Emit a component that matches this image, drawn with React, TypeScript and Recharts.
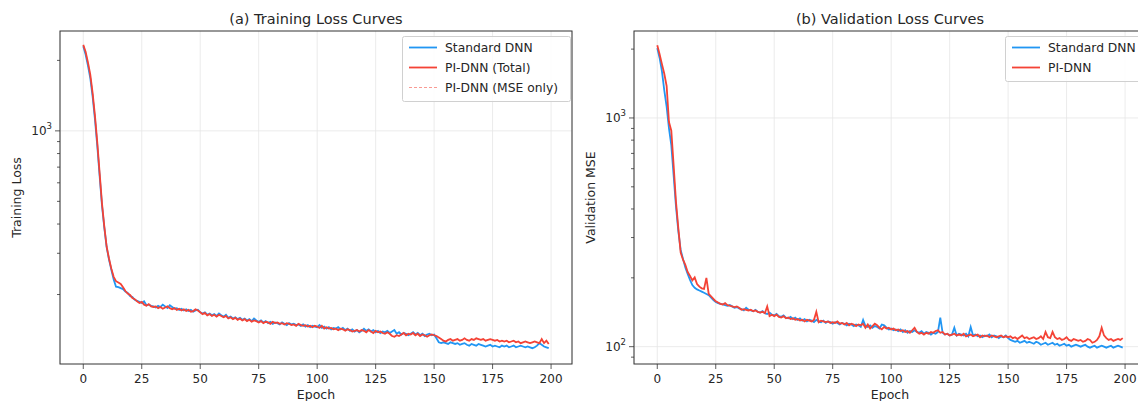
import React from "react";
import {
  CartesianGrid,
  Line,
  LineChart,
  ReferenceLine,
  XAxis,
  YAxis,
} from "recharts";

// training loss, standard DNN (epochs 0..199)
const trainStd = [
  2300, 2120, 1900, 1680, 1400, 1120, 860, 640, 480, 385,
  318, 282, 255, 232, 216, 215, 213, 211, 206, 203,
  197, 195, 190, 188, 186, 184, 187, 180, 181, 179,
  178, 176, 179, 177, 181, 178, 175, 180, 177, 174,
  175, 172, 174, 171, 173, 170, 172, 169, 171, 172,
  168, 166, 168, 164, 166, 163, 165, 162, 166, 163,
  161, 164, 159, 161, 158, 160, 157, 159, 156, 158,
  155, 157, 154, 158, 155, 153, 155, 152, 154, 151,
  153, 150, 152, 151, 149, 152, 150, 148, 151, 149,
  150, 148, 149, 147, 149, 146, 148, 145, 147, 146,
  145, 148, 144, 146, 143, 145, 142, 144, 143, 145,
  142, 144, 141, 143, 140, 142, 139, 141, 138, 140,
  143, 140, 142, 139, 141, 138, 140, 137, 139, 138,
  140, 137, 139, 141, 136, 138, 135, 137, 136, 134,
  136, 138, 135, 137, 134, 136, 133, 135, 136, 134,
  135, 130, 125, 124, 125, 124, 123, 125, 124, 123,
  124, 122, 123, 124, 122, 121, 123, 122, 121, 123,
  122, 121, 120, 121, 122, 120, 121, 120, 119, 121,
  120, 121, 119, 120, 121, 119, 120, 121, 120, 119,
  120, 119, 118, 119, 121, 124, 122, 120, 119, 118,
];

// training loss, PI-DNN total
const trainPi = [
  2330, 2180, 1960, 1740, 1450, 1160, 890, 660, 490, 390,
  320, 285, 258, 238, 228, 225, 222, 215, 207, 202,
  199, 193, 191, 187, 184, 186, 181, 179, 182, 178,
  177, 178, 175, 177, 174, 176, 178, 175, 173, 175,
  172, 174, 171, 173, 170, 172, 169, 170, 173, 171,
  168, 165, 167, 163, 165, 162, 164, 161, 164, 162,
  160, 162, 158, 160, 157, 159, 156, 158, 155, 157,
  154, 156, 153, 155, 154, 152, 154, 151, 153, 152,
  150, 153, 151, 152, 150, 151, 149, 151, 150, 148,
  149, 147, 150, 148, 147, 148, 146, 147, 145, 147,
  146, 144, 147, 143, 145, 143, 144, 142, 143, 141,
  143, 142, 140, 142, 141, 139, 140, 141, 139, 141,
  140, 138, 141, 139, 137, 140, 138, 139, 137, 136,
  138, 136, 133, 132, 134, 133, 135, 137, 134, 136,
  135, 137, 134, 136, 133, 135, 134, 132, 134, 135,
  134, 133, 131, 129, 127, 126, 128, 129, 127, 128,
  129, 127, 128, 130, 128, 127, 129, 128, 130, 129,
  128, 129, 127, 128, 129, 128, 127, 128, 126, 127,
  126, 127, 125, 126, 127, 125, 126, 124, 125, 126,
  125, 124, 125, 126, 125, 124, 129, 124, 127, 123,
];

// validation MSE, standard DNN
const valStd = [
  2020, 1830, 1600, 1320, 1120, 900, 760, 560, 410, 320,
  265, 242, 222, 208, 196, 186, 181, 178, 176, 174,
  172, 170, 168, 164, 160, 157, 155, 154, 153, 152,
  151, 152, 150, 148, 149, 147, 146, 144, 148, 145,
  144, 143, 145, 142, 141, 143, 140, 139, 141, 138,
  137, 139, 136, 135, 137, 134, 133, 135, 132, 134,
  131, 133, 130, 132, 129, 131, 130, 128, 131, 129,
  128, 130, 127, 129, 128, 126, 128, 127, 125, 127,
  126, 124, 126, 125, 123, 125, 124, 122, 131, 123,
  122, 124, 121, 123, 122, 120, 125, 124, 121, 119,
  120, 118, 119, 117, 119, 116, 118, 115, 117, 116,
  118, 116, 115, 117, 114, 116, 115, 113, 115, 114,
  116, 134, 115, 113, 114, 112, 113, 121, 112, 114,
  113, 112, 114, 111, 122, 112, 113, 111, 112, 110,
  112, 111, 113, 110, 112, 111, 109, 111, 110, 112,
  109, 107, 106, 105, 106, 104, 105, 106, 104, 105,
  104, 103, 105, 104, 102, 103, 104, 102, 103, 104,
  102, 103, 101, 102, 103, 101, 102, 100, 101, 102,
  101, 100, 101, 102, 100, 99, 100, 101, 99, 100,
  101, 100, 99, 100, 101, 99, 100, 101, 100, 99,
];

// validation MSE, PI-DNN
const valPi = [
  2080, 1900, 1720, 1560, 1380, 960, 880, 620, 430, 330,
  258, 240, 228, 212, 204, 195, 201, 188, 183, 180,
  179, 200, 170, 166, 162, 158, 156, 154, 153, 155,
  152, 151, 150, 149, 150, 148, 145, 146, 145, 144,
  145, 143, 144, 142, 141, 142, 140, 150, 136, 138,
  136, 138, 135, 134, 136, 133, 134, 132, 133, 131,
  132, 130, 131, 129, 131, 130, 129, 131, 142, 128,
  130, 129, 128, 129, 127, 128, 127, 129, 126, 127,
  125, 127, 124, 126, 125, 123, 125, 124, 126, 121,
  125, 120, 123, 126, 124, 121, 119, 122, 120, 121,
  119, 120, 118, 119, 117, 118, 116, 117, 115, 118,
  121, 116, 114, 115, 113, 115, 114, 116, 115, 117,
  118, 115, 116, 113, 114, 112, 113, 114, 112, 113,
  112, 114, 111, 112, 113, 111, 112, 113, 110, 112,
  111, 112, 110, 112, 111, 110, 111, 112, 110, 111,
  110, 111, 109, 110, 108, 110, 112, 109, 110, 108,
  109, 110, 108, 109, 111, 108, 116, 110, 109, 116,
  110, 108, 109, 107, 108, 110, 107, 106, 108, 107,
  106, 107, 105, 106, 108, 107, 104, 105, 107, 111,
  121, 112, 109, 107, 108, 106, 107, 108, 107, 109,
];

const epochs = trainStd.map((_, i) => i);
const xTicks = [0, 25, 50, 75, 100, 125, 150, 175, 200];
const trainTicks = [200, 300, 400, 500, 600, 700, 800, 900, 1000, 2000];
const valTicks = [90, 100, 200, 300, 400, 500, 600, 700, 800, 900, 1000, 2000];

const trainData = epochs.map((e, i) => ({
  epoch: e,
  std: trainStd[i],
  pi: trainPi[i],
  piMse: trainPi[i],
}));
const valData = epochs.map((e, i) => ({
  epoch: e,
  std: valStd[i],
  pi: valPi[i],
}));

const BLUE = "#2196f3";
const RED = "#f44336";
const PALE_RED = "#f99a93";
const AX = "#333";
const TXT = "#262626";
const GRID = "#e6e6e6";
const FONT = "DejaVu Sans";
const LW = 1.8;

function LogTick(props: any) {
  const { x, y, payload } = props;
  const v = payload.value;
  const exp = Math.round(Math.log10(v));
  const major = Math.abs(Math.log10(v) - exp) < 1e-9;
  return (
    <g>
      <line x1={x} x2={x - (major ? 5 : 3)} y1={y} y2={y} stroke={AX} strokeWidth={0.8} />
      {major && (
        <text x={x - 8} y={y} dy={4} textAnchor="end" fontSize={12} fill={TXT} fontFamily={FONT}>
          10
          <tspan dy={-6} fontSize={8.5}>
            {exp}
          </tspan>
        </text>
      )}
    </g>
  );
}

function XTick(props: any) {
  const { x, y, payload } = props;
  return (
    <text x={x} y={y} dy={11} textAnchor="middle" fontSize={12} fill={TXT} fontFamily={FONT}>
      {payload.value}
    </text>
  );
}

type Item = { label: string; color: string; dashed?: boolean };

function Overlay({
  title,
  ylabel,
  legend,
  legendX,
  legendW,
}: {
  title: string;
  ylabel: string;
  legend: Item[];
  legendX: number;
  legendW: number;
}) {
  const left = 60;
  const top = 31;
  const w = 512;
  const h = 333;
  const legendH = legend.length * 20 + 5;
  return (
    <svg
      width={580}
      height={401}
      style={{ position: "absolute", left: 0, top: 0, pointerEvents: "none" }}
      fontFamily={FONT}
    >
      <text x={left + w / 2} y={24} textAnchor="middle" fontSize={14.5} fill={TXT}>
        {title}
      </text>
      <text x={left + w / 2} y={399} textAnchor="middle" fontSize={12.5} fill={TXT}>
        Epoch
      </text>
      <text
        x={0}
        y={0}
        transform={`translate(21 ${top + h / 2}) rotate(-90)`}
        textAnchor="middle"
        fontSize={12.5}
        fill={TXT}
      >
        {ylabel}
      </text>
      <rect x={left} y={top} width={w} height={h} fill="none" stroke={AX} strokeWidth={1} />
      <g transform={`translate(${legendX} 36)`}>
        <rect
          x={0.5}
          y={0.5}
          width={legendW}
          height={legendH}
          rx={2}
          fill="rgba(255,255,255,0.85)"
          stroke="#d0d0d0"
        />
        {legend.map((it, i) => (
          <g key={it.label} transform={`translate(0 ${11.5 + i * 20})`}>
            <line
              x1={7}
              x2={35}
              y1={0}
              y2={0}
              stroke={it.color}
              strokeWidth={it.dashed ? 1.2 : LW}
              strokeDasharray={it.dashed ? "3 2" : undefined}
            />
            <text x={43} y={4.5} fontSize={12.3} fill={TXT}>
              {it.label}
            </text>
          </g>
        ))}
      </g>
    </svg>
  );
}

function LossChart({
  data,
  domain,
  ticks,
  majors,
  children,
}: {
  data: any[];
  domain: [number, number];
  ticks: number[];
  majors: number[];
  children: React.ReactNode;
}) {
  return (
    <LineChart
      width={580}
      height={401}
      data={data}
      margin={{ top: 31, right: 8, bottom: 7, left: 10 }}
    >
      <CartesianGrid horizontal={false} stroke={GRID} strokeWidth={0.8} />
      {majors.map((m) => (
        <ReferenceLine key={m} y={m} stroke={GRID} strokeWidth={0.8} />
      ))}
      <XAxis
        dataKey="epoch"
        type="number"
        domain={[-9.95, 208.95]}
        ticks={xTicks}
        interval={0}
        allowDataOverflow
        height={30}
        axisLine={false}
        tickSize={5}
        tickMargin={3}
        tickLine={{ stroke: AX, strokeWidth: 0.8 }}
        tick={<XTick />}
      />
      <YAxis
        scale="log"
        type="number"
        domain={domain}
        ticks={ticks}
        interval={0}
        allowDataOverflow
        width={50}
        axisLine={false}
        tickLine={false}
        tickSize={0}
        tickMargin={0}
        tick={<LogTick />}
      />
      {children}
    </LineChart>
  );
}

export default function App() {
  return (
    <div
      style={{
        position: "absolute",
        left: 0,
        top: 0,
        width: 1138,
        height: 401,
        overflow: "hidden",
        background: "#fff",
      }}
    >
      <div style={{ position: "absolute", left: 0, top: 0, width: 580, height: 401 }}>
        <LossChart data={trainData} domain={[101, 2670]} ticks={trainTicks} majors={[1000]}>
          <Line dataKey="std" stroke={BLUE} strokeWidth={LW} dot={false} isAnimationActive={false} />
          <Line dataKey="pi" stroke={RED} strokeWidth={LW} dot={false} isAnimationActive={false} />
          <Line
            dataKey="piMse"
            stroke={RED}
            strokeOpacity={0.35}
            strokeWidth={1}
            strokeDasharray="3 2"
            dot={false}
            isAnimationActive={false}
          />
        </LossChart>
        <Overlay
          title="(a) Training Loss Curves"
          ylabel="Training Loss"
          legendX={402}
          legendW={168}
          legend={[
            { label: "Standard DNN", color: BLUE },
            { label: "PI-DNN (Total)", color: RED },
            { label: "PI-DNN (MSE only)", color: PALE_RED, dashed: true },
          ]}
        />
      </div>
      <div style={{ position: "absolute", left: 574, top: 0, width: 580, height: 401 }}>
        <LossChart data={valData} domain={[84, 2400]} ticks={valTicks} majors={[100, 1000]}>
          <Line dataKey="std" stroke={BLUE} strokeWidth={LW} dot={false} isAnimationActive={false} />
          <Line dataKey="pi" stroke={RED} strokeWidth={LW} dot={false} isAnimationActive={false} />
        </LossChart>
        <Overlay
          title="(b) Validation Loss Curves"
          ylabel="Validation MSE"
          legendX={431}
          legendW={140}
          legend={[
            { label: "Standard DNN", color: BLUE },
            { label: "PI-DNN", color: RED },
          ]}
        />
      </div>
    </div>
  );
}
